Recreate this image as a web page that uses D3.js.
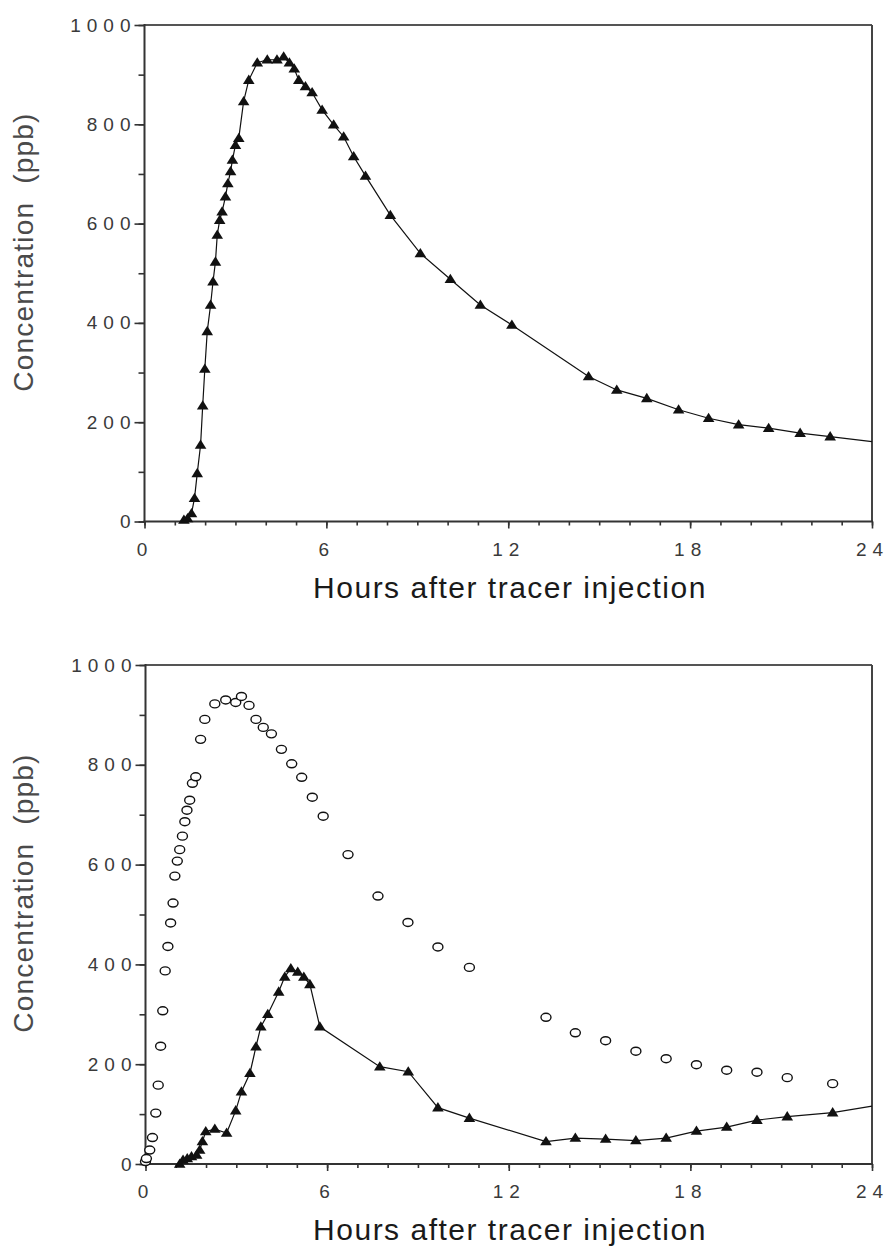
<!DOCTYPE html>
<html><head><meta charset="utf-8">
<script src="https://cdn.jsdelivr.net/npm/d3@7"></script>
<style>body{margin:0;background:#fff}svg text{white-space:pre}</style>
</head><body>
<svg id="c" width="888" height="1253"></svg>
<script>
// ---- data ----
const xTicks = [0, 6, 12, 18, 24];
const yTicks = [0, 200, 400, 600, 800, 1000];
const xMinor = d3.range(0, 25, 1);
const yMinor = d3.range(0, 1001, 100);
const yTitle = "Concentration  (ppb)";
const xTitle = "Hours after tracer injection";

// top panel: triangles
const topHours = [1.30,1.42,1.55,1.65,1.74,1.85,1.92,1.99,2.07,2.18,2.26,2.34,2.40,2.48,2.56,2.67,2.75,2.84,2.90,3.00,3.11,3.27,3.44,3.72,4.05,4.37,4.59,4.78,4.94,5.09,5.31,5.53,5.86,6.24,6.57,6.90,7.29,8.11,9.10,10.09,11.08,12.12,14.65,15.58,16.57,17.62,18.61,19.60,20.59,21.63,22.62];
const topConc  = [3,6,16,47,97,154,233,307,383,436,483,523,577,607,624,654,681,705,728,758,772,846,889,924,930,930,936,924,912,889,876,864,829,799,775,735,696,617,540,488,436,396,292,265,248,225,208,195,188,178,171];
const topTailHours = [24];
const topTailConc  = [161];

// bottom panel: open circles
const botCircleHours = [0.00,0.03,0.14,0.23,0.34,0.42,0.50,0.57,0.65,0.74,0.83,0.91,0.97,1.05,1.13,1.22,1.30,1.37,1.46,1.55,1.66,1.82,1.96,2.29,2.65,2.98,3.17,3.42,3.65,3.89,4.16,4.49,4.83,5.16,5.51,5.87,6.69,7.68,8.67,9.66,10.70,13.23,14.20,15.20,16.20,17.20,18.20,19.20,20.20,21.20,22.70];
const botCircleConc  = [5,11,28,53,102,158,236,307,387,436,483,523,577,607,630,657,686,709,729,763,776,851,891,922,930,925,937,919,891,875,862,831,802,775,735,697,620,537,484,435,394,294,263,247,226,211,199,188,184,173,161];

// bottom panel: triangles
const botTriHours = [1.13,1.24,1.38,1.52,1.69,1.79,1.88,1.99,2.29,2.68,2.98,3.17,3.45,3.65,3.81,4.04,4.40,4.60,4.80,5.03,5.23,5.43,5.76,7.74,8.68,9.66,10.70,13.23,14.20,15.20,16.20,17.20,18.20,19.20,20.20,21.20,22.70];
const botTriConc  = [0,8,11,15,18,28,45,65,70,62,107,145,182,235,275,300,345,375,392,385,375,360,275,195,185,113,92,45,52,50,47,52,66,74,88,95,103];
const botTailHours = [24];
const botTailConc  = [116];

// ---- drawing ----
const svg = d3.select("#c");
const zip = (a, b) => a.map((v, i) => [v, b[i]]);
const triPath = "M0,-5.5L5.8,3.8L-5.8,3.8Z";

function panel(frame, lineData, triData, circData) {
  const g = svg.append("g");
  const x = d3.scaleLinear().domain([0, 24]).range([frame.x0, frame.x1]);
  const y = d3.scaleLinear().domain([0, 1000]).range([frame.y1, frame.y0]);

  // frame: top + right
  g.append("line").attr("x1", frame.x0).attr("x2", frame.x1).attr("y1", frame.y0).attr("y2", frame.y0)
    .attr("stroke", "#555").attr("stroke-width", 2);
  g.append("line").attr("x1", frame.x1).attr("x2", frame.x1).attr("y1", frame.y0).attr("y2", frame.y1)
    .attr("stroke", "#444").attr("stroke-width", 2);

  const tickStyle = sel => {
    sel.select(".domain").remove();
    sel.selectAll("line").attr("stroke", "#333").attr("stroke-width", 1.6);
    sel.selectAll("text").attr("font-family", "Liberation Sans, Arial, sans-serif")
      .attr("font-size", 19).attr("fill", "#3a3a3a").attr("letter-spacing", "6px");
  };
  // y axis
  g.append("g").attr("transform", `translate(${frame.x0},0)`)
    .call(d3.axisLeft(y).tickValues(yMinor).tickSize(6).tickFormat("")).call(tickStyle);
  g.append("g").attr("transform", `translate(${frame.x0},0)`)
    .call(d3.axisLeft(y).tickValues(yTicks).tickSize(10).tickPadding(-2).tickFormat(d3.format("d"))).call(tickStyle);
  g.append("line").attr("x1", frame.x0).attr("x2", frame.x0).attr("y1", frame.y0 - 1).attr("y2", frame.y1 + 1)
    .attr("stroke", "#333").attr("stroke-width", 2);
  // x axis
  g.append("g").attr("transform", `translate(0,${frame.y1})`)
    .call(d3.axisBottom(x).tickValues(xMinor).tickSize(4).tickFormat("")).call(tickStyle);
  g.append("g").attr("transform", `translate(0,${frame.y1})`)
    .call(d3.axisBottom(x).tickValues(xTicks).tickSize(7).tickPadding(14).tickFormat(d3.format("d"))).call(tickStyle);
  g.append("line").attr("x1", frame.x0 - 1).attr("x2", frame.x1 + 1).attr("y1", frame.y1).attr("y2", frame.y1)
    .attr("stroke", "#333").attr("stroke-width", 2);

  // titles
  g.append("text").text(xTitle).attr("x", 510).attr("y", frame.y1 + 76)
    .attr("text-anchor", "middle").attr("font-family", "Liberation Sans, Arial, sans-serif")
    .attr("font-size", 30).attr("letter-spacing", "1.5px").attr("fill", "#1a1a1a");
  g.append("text").text(yTitle).attr("transform", `translate(33,${frame.yMid}) rotate(-90)`)
    .attr("text-anchor", "middle").attr("font-family", "Liberation Sans, Arial, sans-serif")
    .attr("font-size", 28).attr("letter-spacing", "1.2px").attr("fill", "#4a4a4a");

  // series
  const line = d3.line().x(d => x(d[0])).y(d => y(d[1]));
  if (lineData) g.append("path").attr("d", line(lineData)).attr("fill", "none")
    .attr("stroke", "#111").attr("stroke-width", 1.2);
  if (circData) g.append("g").selectAll("ellipse").data(circData).join("ellipse")
    .attr("cx", d => x(d[0])).attr("cy", d => y(d[1])).attr("rx", 5).attr("ry", 4)
    .attr("fill", "#fff").attr("stroke", "#111").attr("stroke-width", 1.4);
  if (triData) g.append("g").selectAll("path").data(triData).join("path")
    .attr("d", triPath).attr("transform", d => `translate(${x(d[0])},${y(d[1])})`)
    .attr("fill", "#111");
}

const topTri = zip(topHours, topConc);
panel({x0: 144.5, x1: 872, y0: 25, y1: 521.5, yMid: 252},
  topTri.concat(zip(topTailHours, topTailConc)), topTri, null);

const botTri = zip(botTriHours, botTriConc);
panel({x0: 145.5, x1: 872, y0: 665, y1: 1164, yMid: 893},
  botTri.concat(zip(botTailHours, botTailConc)), botTri, zip(botCircleHours, botCircleConc));
</script>
</body></html>
